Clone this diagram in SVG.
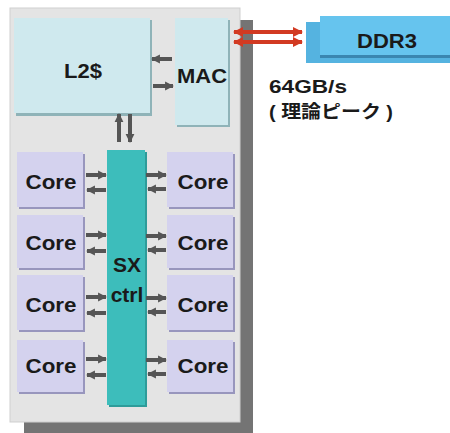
<svg xmlns="http://www.w3.org/2000/svg" width="450" height="433" viewBox="0 0 450 433">
<style>
text{font-family:"Liberation Sans",Arial,sans-serif;font-weight:bold;fill:#1a1a1a;text-anchor:middle}
.t{font-size:21px}
.cache{fill:#cfe9ee}
.cacheS{fill:#8fb3b8}
.core{fill:#d4d2ee}
.coreS{fill:#9896bd}
.ar{stroke:#555;stroke-width:4;fill:none}
.red{stroke:#d23a22;stroke-width:4;fill:none}
</style>
<defs>
<marker id="ah" viewBox="0 0 10 10" refX="9" refY="5" markerWidth="2.2" markerHeight="2.4" orient="auto-start-reverse" markerUnits="strokeWidth">
<path d="M0,0 L10,5 L0,10 Z" fill="#555"/>
</marker>
<marker id="rh" viewBox="0 0 10 10" refX="9" refY="5" markerWidth="2.6" markerHeight="3.2" orient="auto-start-reverse" markerUnits="strokeWidth">
<path d="M0,0 L10,5 L0,10 Z" fill="#d23a22"/>
</marker>
</defs>
<g id="chip">
<rect x="24" y="20" width="229" height="413" fill="#747474"/>
<rect x="10" y="8" width="230" height="414" fill="#e4e4e4" stroke="#cfcfcf" stroke-width="1"/>
</g>
<g id="L2">
<rect class="cacheS" x="16" y="20" width="136" height="96"/>
<rect class="cache" x="14" y="18" width="136" height="95"/>
<text class="t" x="83" y="78" textLength="38" lengthAdjust="spacingAndGlyphs">L2$</text>
</g>
<g id="MAC">
<rect class="cacheS" x="177" y="20" width="53" height="107"/>
<rect class="cache" x="175" y="18" width="53" height="107"/>
<text class="t" x="202" y="83" textLength="50" lengthAdjust="spacingAndGlyphs">MAC</text>
</g>
<g id="SX">
<rect x="109" y="152" width="38" height="255" fill="#2e9c9a"/>
<rect x="107" y="150" width="38" height="255" fill="#3dbdbb"/>
<text class="t" x="127" y="272">SX</text>
<text class="t" x="127" y="302">ctrl</text>
</g>
<g id="cores">
<g id="core-l1"><rect class="coreS" x="19" y="154" width="66" height="55"/><rect class="core" x="17" y="152" width="66" height="55"/><text class="t" x="51" y="189" textLength="51" lengthAdjust="spacingAndGlyphs">Core</text></g>
<g id="core-l2"><rect class="coreS" x="19" y="217" width="66" height="53"/><rect class="core" x="17" y="215" width="66" height="53"/><text class="t" x="51" y="250" textLength="51" lengthAdjust="spacingAndGlyphs">Core</text></g>
<g id="core-l3"><rect class="coreS" x="19" y="277" width="66" height="55"/><rect class="core" x="17" y="275" width="66" height="55"/><text class="t" x="51" y="312" textLength="51" lengthAdjust="spacingAndGlyphs">Core</text></g>
<g id="core-l4"><rect class="coreS" x="19" y="342" width="66" height="52"/><rect class="core" x="17" y="340" width="66" height="52"/><text class="t" x="51" y="373" textLength="51" lengthAdjust="spacingAndGlyphs">Core</text></g>
<g id="core-r1"><rect class="coreS" x="169" y="154" width="66" height="55"/><rect class="core" x="167" y="152" width="66" height="55"/><text class="t" x="203" y="189" textLength="51" lengthAdjust="spacingAndGlyphs">Core</text></g>
<g id="core-r2"><rect class="coreS" x="169" y="217" width="66" height="53"/><rect class="core" x="167" y="215" width="66" height="53"/><text class="t" x="203" y="250" textLength="51" lengthAdjust="spacingAndGlyphs">Core</text></g>
<g id="core-r3"><rect class="coreS" x="169" y="277" width="66" height="55"/><rect class="core" x="167" y="275" width="66" height="55"/><text class="t" x="203" y="312" textLength="51" lengthAdjust="spacingAndGlyphs">Core</text></g>
<g id="core-r4"><rect class="coreS" x="169" y="342" width="66" height="52"/><rect class="core" x="167" y="340" width="66" height="52"/><text class="t" x="203" y="373" textLength="51" lengthAdjust="spacingAndGlyphs">Core</text></g>
</g>
<g id="DDR3">
<rect x="306" y="22" width="144" height="41" fill="#55b3e0"/>
<rect x="320" y="16" width="130" height="40" fill="#66c4ee"/>
<rect x="320" y="55" width="130" height="3" fill="#3a86b0"/>
<text class="t" x="387" y="48" textLength="60" lengthAdjust="spacingAndGlyphs">DDR3</text>
</g>
<g id="connectors">
<line class="ar" x1="172" y1="59" x2="152" y2="59" marker-end="url(#ah)"/>
<line class="ar" x1="153" y1="86" x2="173" y2="86" marker-end="url(#ah)"/>
<line class="ar" x1="119" y1="142" x2="119" y2="114" marker-end="url(#ah)"/>
<line class="ar" x1="130" y1="114" x2="130" y2="142" marker-end="url(#ah)"/>
<line class="ar" x1="86" y1="175" x2="106" y2="175" marker-end="url(#ah)"/>
<line class="ar" x1="106" y1="190" x2="87" y2="190" marker-end="url(#ah)"/>
<line class="ar" x1="146" y1="175" x2="166" y2="175" marker-end="url(#ah)"/>
<line class="ar" x1="166" y1="189" x2="148" y2="189" marker-end="url(#ah)"/>
<line class="ar" x1="86" y1="235" x2="106" y2="235" marker-end="url(#ah)"/>
<line class="ar" x1="106" y1="251" x2="87" y2="251" marker-end="url(#ah)"/>
<line class="ar" x1="146" y1="236" x2="166" y2="236" marker-end="url(#ah)"/>
<line class="ar" x1="166" y1="250" x2="148" y2="250" marker-end="url(#ah)"/>
<line class="ar" x1="86" y1="297" x2="106" y2="297" marker-end="url(#ah)"/>
<line class="ar" x1="106" y1="313" x2="87" y2="313" marker-end="url(#ah)"/>
<line class="ar" x1="146" y1="298" x2="166" y2="298" marker-end="url(#ah)"/>
<line class="ar" x1="166" y1="312" x2="148" y2="312" marker-end="url(#ah)"/>
<line class="ar" x1="86" y1="359" x2="106" y2="359" marker-end="url(#ah)"/>
<line class="ar" x1="106" y1="375" x2="87" y2="375" marker-end="url(#ah)"/>
<line class="ar" x1="146" y1="360" x2="166" y2="360" marker-end="url(#ah)"/>
<line class="ar" x1="166" y1="374" x2="148" y2="374" marker-end="url(#ah)"/>
<line class="red" x1="234" y1="32" x2="302" y2="32" marker-start="url(#rh)" marker-end="url(#rh)"/>
<line class="red" x1="234" y1="42" x2="302" y2="42" marker-start="url(#rh)" marker-end="url(#rh)"/>
</g>
<g id="label">
<text x="269" y="93" textLength="78" lengthAdjust="spacingAndGlyphs" style="font-size:18px;text-anchor:start">64GB/s</text>
<text x="269" y="118" textLength="124" lengthAdjust="spacingAndGlyphs" style="font-size:18px;text-anchor:start;font-family:'Liberation Sans','Noto Sans CJK JP',sans-serif">( 理論ピーク )</text>
</g>
</svg>
